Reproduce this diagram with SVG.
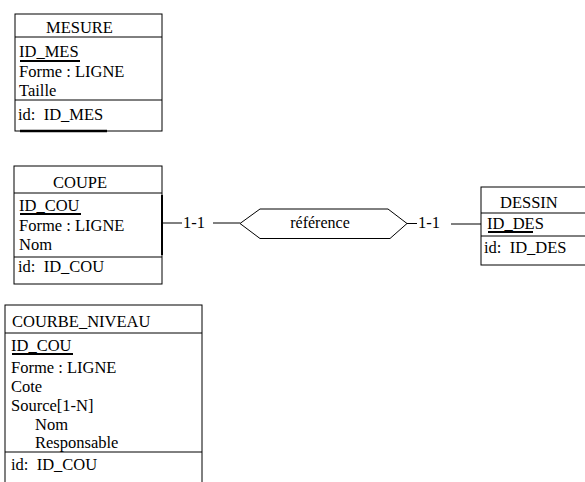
<svg xmlns="http://www.w3.org/2000/svg" width="585" height="482" viewBox="0 0 585 482">
<style>
  text { font-family: "Liberation Serif", "Times New Roman", serif; font-size: 16.5px; fill: #000; white-space: pre; }
  .box { fill: #fff; stroke: #000; stroke-width: 1; }
  .sep { stroke: #000; stroke-width: 1; }
  .ul { stroke: #000; stroke-width: 2; }
  .conn { stroke: #000; stroke-width: 1; fill: none; }
  .rel { fill: #fff; stroke: #000; stroke-width: 1; }
  .rtext { font-size: 16px; }
</style>
<rect width="585" height="482" fill="#fff"/>

<g id="MESURE">
  <rect class="box" x="15" y="14" width="147" height="117"/>
  <line class="sep" x1="15" y1="37" x2="162" y2="37"/>
  <line class="sep" x1="15" y1="100" x2="162" y2="100"/>
  <text x="46" y="33">MESURE</text>
  <text x="19" y="57">ID_MES</text>
  <line class="ul" x1="20" y1="61" x2="80" y2="61"/>
  <text x="19" y="77">Forme : LIGNE</text>
  <text x="19" y="96">Taille</text>
  <text x="18" y="120" xml:space="preserve">id:  ID_MES</text>
  <line x1="20" y1="131" x2="107" y2="131" stroke="#000" stroke-width="2.5"/>
</g>

<g id="COUPE">
  <rect class="box" x="14" y="166" width="148" height="118"/>
  <line class="sep" x1="14" y1="193" x2="162" y2="193"/>
  <line class="sep" x1="14" y1="257" x2="162" y2="257"/>
  <line x1="162" y1="195" x2="162" y2="255" stroke="#000" stroke-width="2"/>
  <text x="53" y="188">COUPE</text>
  <text x="19" y="211">ID_COU</text>
  <line class="ul" x1="20" y1="214" x2="81" y2="214"/>
  <text x="19" y="231">Forme : LIGNE</text>
  <text x="19" y="250">Nom</text>
  <text x="18" y="272" xml:space="preserve">id:  ID_COU</text>
</g>

<g id="DESSIN">
  <rect class="box" x="481" y="187" width="110" height="78"/>
  <line class="sep" x1="481" y1="213" x2="591" y2="213"/>
  <line class="sep" x1="481" y1="236" x2="591" y2="236"/>
  <text x="500" y="208">DESSIN</text>
  <text x="487" y="229">ID_DES</text>
  <line class="ul" x1="488" y1="232" x2="533" y2="232"/>
  <text x="484" y="253" xml:space="preserve">id:  ID_DES</text>
</g>

<g id="COURBE_NIVEAU">
  <rect class="box" x="5" y="305" width="197" height="190"/>
  <line class="sep" x1="5" y1="333" x2="202" y2="333"/>
  <line class="sep" x1="5" y1="452" x2="202" y2="452"/>
  <text x="12" y="327">COURBE_NIVEAU</text>
  <text x="11" y="351">ID_COU</text>
  <line class="ul" x1="12" y1="354" x2="73" y2="354"/>
  <text x="11" y="373">Forme : LIGNE</text>
  <text x="11" y="392">Cote</text>
  <text x="11" y="411">Source[1-N]</text>
  <text x="35" y="430">Nom</text>
  <text x="35" y="448">Responsable</text>
  <text x="11" y="470" xml:space="preserve">id:  ID_COU</text>
</g>

<g id="reference">
  <polygon class="rel" points="240,223.5 260,209 388,209 407,223.5 390,238.5 260,238.5"/>
  <text class="rtext" x="320" y="228" text-anchor="middle">référence</text>
</g>

<g id="connectors">
  <line class="conn" x1="162" y1="223" x2="182" y2="223"/>
  <text x="183" y="228">1-1</text>
  <line class="conn" x1="213" y1="223" x2="240" y2="223"/>
  <line class="conn" x1="407" y1="223.5" x2="417" y2="223.5"/>
  <text x="418" y="228">1-1</text>
  <line class="conn" x1="451" y1="224" x2="481" y2="224"/>
</g>
</svg>
